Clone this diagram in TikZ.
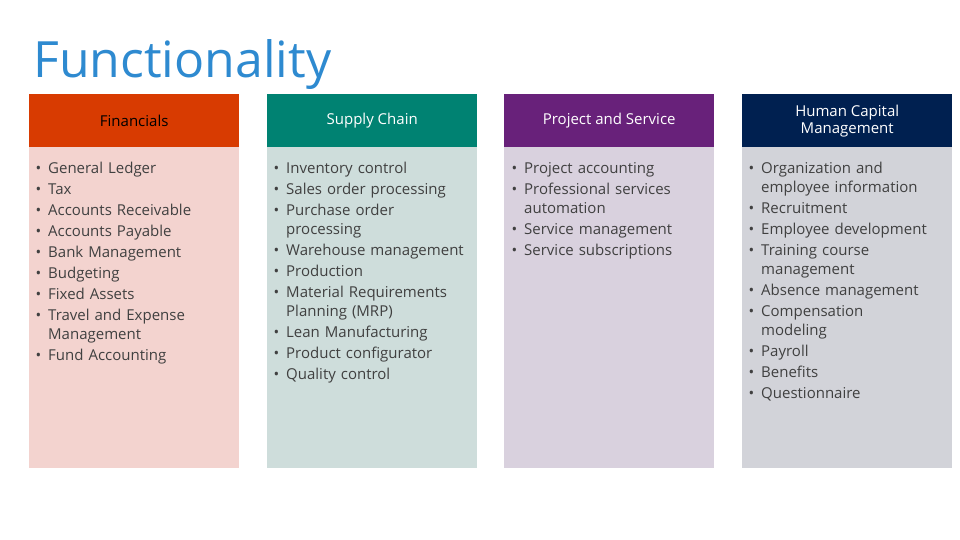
\documentclass[tikz,border=0pt]{standalone}
\usepackage{fontspec}
\setmainfont{Open Sans}
\usepackage{enumitem}
\definecolor{ttl}{HTML}{2E8AD0}
\definecolor{hA}{HTML}{D83B01}\definecolor{bA}{HTML}{F3D3CF}
\definecolor{hB}{HTML}{008272}\definecolor{bB}{HTML}{CEDDDB}
\definecolor{hC}{HTML}{68217A}\definecolor{bC}{HTML}{D9D1DE}
\definecolor{hD}{HTML}{002050}\definecolor{bD}{HTML}{D2D3D9}
\definecolor{txt}{HTML}{404040}
\tikzset{x=1pt,y=-1pt,
 head/.style={minimum width=210pt,minimum height=53pt,inner sep=2pt,anchor=north west,align=center,font=\fontsize{15}{17}\selectfont},
 body/.style={minimum width=210pt,minimum height=321pt,anchor=north west},
 list/.style={anchor=north west,text width=200pt,inner sep=0pt,text=txt,font=\fontsize{15}{19}\selectfont}}
\setlist[itemize]{label=\textbullet,leftmargin=14pt,labelsep=7pt,itemsep=2pt,topsep=0pt,parsep=0pt,partopsep=0pt}
\begin{document}
\begin{tikzpicture}
\useasboundingbox (0,0) rectangle (960,540);
\node[anchor=base west,inner sep=0pt,text=ttl,font=\fontsize{50}{56}\selectfont] (title) at (33,78) {Functionality};
\node[head,fill=hA,text=black] (hA) at (29,94) {Financials};
\node[body,fill=bA] (bA) at (29,147) {};
\node[head,fill=hB,text=white] (hB) at (267,94) {Supply Chain};
\node[body,fill=bB] (bB) at (267,147) {};
\node[head,fill=hC,text=white] (hC) at (504,94) {Project and Service};
\node[body,fill=bC] (bC) at (504,147) {};
\node[head,fill=hD,text=white] (hD) at (742,94) {Human Capital\\Management};
\node[body,fill=bD] (bD) at (742,147) {};
\node[list] (lA) at (34,154) {\begin{itemize}
\item General Ledger\item Tax\item Accounts Receivable\item Accounts Payable\item Bank Management\item Budgeting\item Fixed Assets\item Travel and Expense Management\item Fund Accounting\end{itemize}};
\node[list,text width=195pt] (lB) at (272,154) {\begin{itemize}
\item Inventory control\item Sales order processing\item Purchase order processing\item Warehouse management\item Production\item Material Requirements Planning (MRP)\item Lean Manufacturing\item Product configurator\item Quality control\end{itemize}};
\node[list,text width=180pt] (lC) at (510,154) {\begin{itemize}
\item Project accounting\item Professional services automation\item Service management\item Service subscriptions\end{itemize}};
\node[list,text width=185pt] (lD) at (747,154) {\begin{itemize}
\item Organization and employee information\item Recruitment\item Employee development\item Training course management\item Absence management\item Compensation modeling\item Payroll\item Benefits\item Questionnaire\end{itemize}};
\end{tikzpicture}
\end{document}
